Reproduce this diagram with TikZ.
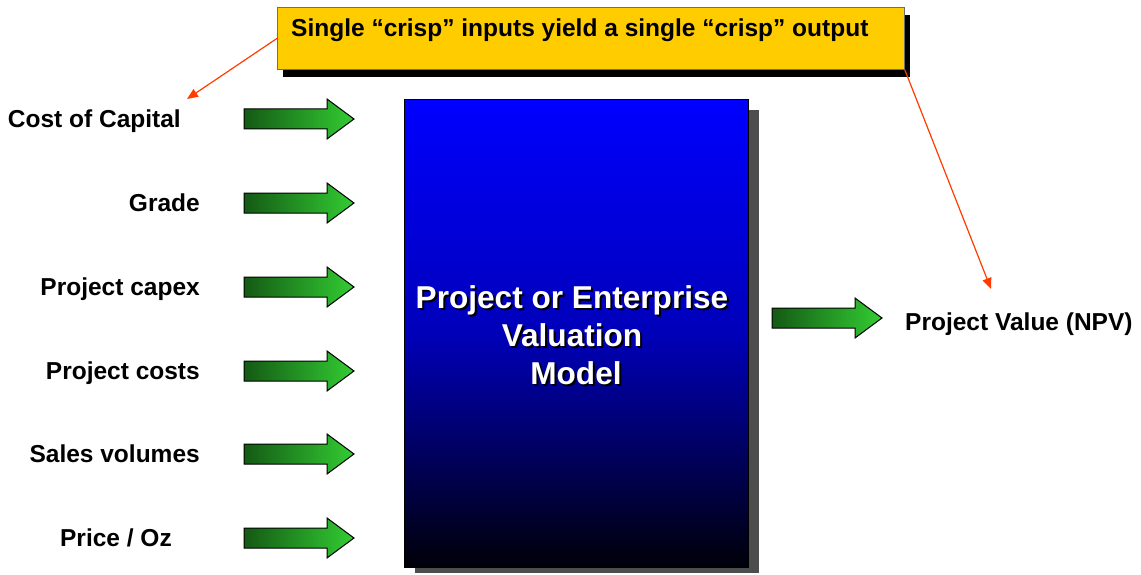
\documentclass[tikz,border=0pt]{standalone}
\usepackage{fontspec}
\setmainfont{Liberation Sans}
\usetikzlibrary{arrows.meta}
\definecolor{gold}{RGB}{255,204,0}
\definecolor{redline}{RGB}{255,60,0}
\definecolor{dgreen}{RGB}{20,90,20}
\definecolor{lgreen}{RGB}{51,204,51}
\definecolor{shadowgray}{RGB}{77,77,77}
\definecolor{midblue}{RGB}{0,0,185}
\definecolor{darkblue}{RGB}{0,0,8}
\definecolor{notegray}{RGB}{110,110,110}
\begin{document}
\begin{tikzpicture}[x=1pt,y=-1pt,
  lbl/.style={font=\fontsize{24.5}{28}\selectfont\bfseries, inner sep=0pt},
  bigtxt/.style={font=\fontsize{31.6}{38}\selectfont\bfseries, align=center, inner sep=0pt},
  callout/.style={redline, line width=1.2pt, -{Triangle[length=11pt,width=9pt]}},
  notebox/.style={draw=notegray, line width=0.8pt, fill=gold, minimum width=627pt, minimum height=62pt, inner sep=0pt, anchor=north west},
  modelbox/.style={draw=black, line width=1pt, top color=blue, bottom color=darkblue, middle color=midblue, minimum width=344pt, minimum height=468pt, inner sep=0pt, anchor=north west},
  garrow/.pic={\shade[left color=dgreen, right color=lgreen, draw=black, line width=1pt]
      (0,-10) -- (83,-10) -- (83,-20) -- (110,0) -- (83,20) -- (83,10) -- (0,10) -- cycle;}
]
\useasboundingbox (0,0) rectangle (1141,575);

% note box
\fill[black] (283,15) rectangle (910,77);
\node[notebox] (note) at (277,7) {};
\node[lbl, anchor=base west] (notetext) at (291,37) {Single “crisp” inputs yield a single “crisp” output};

% model box
\fill[shadowgray] (415,110) rectangle (759,573);
\node[modelbox] (model) at (404,99) {};
\node[bigtxt, text=black] (modelshadow) at (574,337) {Project or Enterprise\\Valuation\\\hspace*{8pt}Model};
\node[bigtxt, text=white] (modeltext) at (572,335) {Project or Enterprise\\Valuation\\\hspace*{8pt}Model};

% input labels
\node[lbl, anchor=base east] (cost) at (181,127.5) {Cost of Capital};
\node[lbl, anchor=base east] (grade) at (200,211.5) {Grade};
\node[lbl, anchor=base east] (capex) at (200,295.5) {Project capex};
\node[lbl, anchor=base east] (costs) at (200,379.5) {Project costs};
\node[lbl, anchor=base east] (sales) at (200,462.5) {Sales volumes};
\node[lbl, anchor=base east] (price) at (172,546.5) {Price / Oz};

% green arrows
\pic (a1) at (244,119) {garrow};
\pic (a2) at (244,203) {garrow};
\pic (a3) at (244,287) {garrow};
\pic (a4) at (244,371) {garrow};
\pic (a5) at (244,454) {garrow};
\pic (a6) at (244,538) {garrow};
\pic (aout) at (772,318) {garrow};

% output label
\node[lbl, anchor=base west] (npv) at (905,330) {Project Value (NPV)};

% callout connectors
\coordinate (tipL) at (187,99);
\coordinate (tipR) at (991,289);
\draw[callout] (note.west) -- (tipL);
\draw[callout] (note.south east) -- (tipR);
\end{tikzpicture}
\end{document}
